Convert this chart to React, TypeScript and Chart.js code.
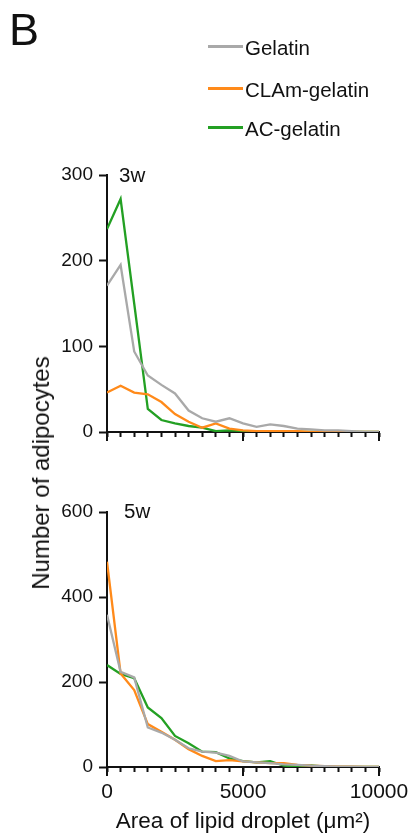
import React, { useEffect, useRef } from "react";
import { Chart, registerables } from "chart.js";

Chart.register(...registerables);

// ---- Data ----
const areaBins = [0, 500, 1000, 1500, 2000, 2500, 3000, 3500, 4000, 4500, 5000, 5500, 6000, 6500, 7000, 7500, 8000, 8500, 9000, 9500, 10000];
const seriesNames = ["Gelatin", "CLAm-gelatin", "AC-gelatin"];
const seriesColors = ["#a9a9a9", "#ff8a1a", "#23a023"];

const gelatin3w = [171, 195, 94, 66, 55, 45, 25, 16, 12, 16, 10, 6, 9, 7, 4, 3, 2, 2, 1, 0, 0];
const clam3w = [46, 54, 46, 44, 35, 21, 12, 5, 10, 4, 2, 1, 1, 1, 1, 0, 0, 0, 0, 0, 0];
const ac3w = [237, 272, 150, 27, 14, 10, 7, 5, 1, 2, 1, 0, 0, 0, 0, 0, 0, 0, 0, 0, 0];

const gelatin5w = [358, 224, 211, 93, 81, 64, 44, 36, 34, 26, 13, 11, 9, 6, 5, 3, 2, 1, 1, 0, 0];
const clam5w = [483, 220, 181, 101, 83, 64, 42, 26, 14, 16, 13, 11, 9, 9, 5, 3, 2, 1, 1, 0, 0];
const ac5w = [240, 219, 209, 140, 115, 73, 56, 36, 35, 20, 14, 11, 14, 3, 2, 4, 1, 0, 0, 0, 0];

const yMax3w = 300;
const yStep3w = 100;
const yMax5w = 600;
const yStep5w = 200;
const xMajorTicks = [0, 5000, 10000];
const panelLabels = ["3w", "5w"];
const figureLetter = "B";
const yTitle = "Number of adipocytes";
const xTitle = "Area of lipid droplet (μm²)";

const FONT = "'Liberation Sans', Arial, Helvetica, sans-serif";
const INK = "#111111";

const majorTickPlugin = {
  id: "majorTicks",
  afterDraw(chart: any) {
    const s = chart.scales.x;
    const ctx = chart.ctx;
    ctx.save();
    ctx.strokeStyle = INK;
    ctx.lineWidth = 2;
    xMajorTicks.forEach((v) => {
      const px = s.getPixelForValue(v);
      ctx.beginPath();
      ctx.moveTo(px, s.top);
      ctx.lineTo(px, s.top + 9);
      ctx.stroke();
    });
    ctx.restore();
  },
};

function makeConfig(series: number[][], yMax: number, yStep: number, showXLabels: boolean, padTop: number, xAxisHeight: number): any {
  return {
    type: "line",
    data: {
      datasets: series.map((d, i) => ({
        label: seriesNames[i],
        data: areaBins.map((x, j) => ({ x, y: d[j] })),
        borderColor: seriesColors[i],
        backgroundColor: seriesColors[i],
        borderWidth: 2.3,
        pointRadius: 0,
        tension: 0,
        fill: false,
      })),
    },
    options: {
      animation: false,
      responsive: false,
      maintainAspectRatio: false,
      layout: { padding: { left: 0, right: 29, top: padTop, bottom: 0 } },
      plugins: { legend: { display: false }, tooltip: { enabled: false }, title: { display: false } },
      scales: {
        x: {
          type: "linear",
          min: 0,
          max: 10000,
          ticks: {
            stepSize: 500,
            autoSkip: false,
            maxRotation: 0,
            minRotation: 0,
            maxTicksLimit: 50,
            padding: 8,
            color: INK,
            font: { family: FONT, size: 21 },
            callback: (v: any) => (showXLabels && xMajorTicks.includes(v) ? String(v) : ""),
          },
          grid: { display: true, drawOnChartArea: false, drawTicks: true, tickLength: 5, tickColor: INK, tickWidth: 2 },
          border: { display: true, color: INK, width: 2 },
          title: {
            display: showXLabels,
            text: xTitle,
            color: INK,
            font: { family: FONT, size: 22.5 },
            padding: { top: 0, bottom: 3 },
          },
          afterFit: (s: any) => {
            s.height = xAxisHeight;
            s.paddingLeft = 0;
            s.paddingRight = 0;
          },
        },
        y: {
          type: "linear",
          min: 0,
          max: yMax,
          ticks: {
            stepSize: yStep,
            padding: 6,
            color: INK,
            font: { family: FONT, size: 19 },
          },
          grid: { display: true, drawOnChartArea: false, drawTicks: true, tickLength: 8, tickColor: INK, tickWidth: 2 },
          border: { display: true, color: INK, width: 2 },
          afterFit: (s: any) => {
            s.width = 107;
          },
        },
      },
    },
    plugins: [majorTickPlugin],
  };
}

function ChartCanvas(props: { config: any; top: number; height: number }) {
  const ref = useRef<HTMLCanvasElement | null>(null);
  useEffect(() => {
    if (!ref.current) return;
    const chart = new Chart(ref.current, props.config);
    return () => chart.destroy();
  }, []);
  return (
    <canvas
      ref={ref}
      width={408}
      height={props.height}
      style={{ position: "absolute", left: 0, top: props.top, width: 408, height: props.height }}
    />
  );
}

function Text(props: { x: number; baseline: number; size: number; children: any; weight?: number }) {
  return (
    <div
      style={{
        position: "absolute",
        left: props.x,
        top: props.baseline - 0.8465 * props.size,
        fontFamily: FONT,
        fontSize: props.size,
        lineHeight: 1,
        whiteSpace: "nowrap",
        color: INK,
        fontWeight: props.weight ?? 400,
      }}
    >
      {props.children}
    </div>
  );
}

export default function App() {
  const cfgTop = makeConfig([gelatin3w, clam3w, ac3w], yMax3w, yStep3w, false, 175, 28);
  const cfgBottom = makeConfig([gelatin5w, clam5w, ac5w], yMax5w, yStep5w, true, 52, 71);
  const legendBaselines = [55, 97, 136];
  return (
    <div style={{ position: "absolute", left: 0, top: 0, width: 408, height: 838, background: "#ffffff", overflow: "hidden" }}>
      <ChartCanvas config={cfgTop} top={0} height={460} />
      <ChartCanvas config={cfgBottom} top={460} height={378} />
      <Text x={9} baseline={45} size={45}>{figureLetter}</Text>
      {seriesNames.map((n, i) => (
        <React.Fragment key={n}>
          <div
            style={{
              position: "absolute",
              left: 208,
              top: legendBaselines[i] - 10,
              width: 35,
              height: 2.5,
              background: seriesColors[i],
            }}
          />
          <Text x={245} baseline={legendBaselines[i]} size={20.5}>{n}</Text>
        </React.Fragment>
      ))}
      <Text x={119} baseline={182} size={20.5}>{panelLabels[0]}</Text>
      <Text x={124} baseline={518} size={20.5}>{panelLabels[1]}</Text>
      <div
        style={{
          position: "absolute",
          left: 41,
          top: 473,
          transform: "translate(-50%, -50%) rotate(-90deg)",
          fontFamily: FONT,
          fontSize: 24,
          lineHeight: 1,
          whiteSpace: "nowrap",
          color: INK,
        }}
      >
        {yTitle}
      </div>
    </div>
  );
}
